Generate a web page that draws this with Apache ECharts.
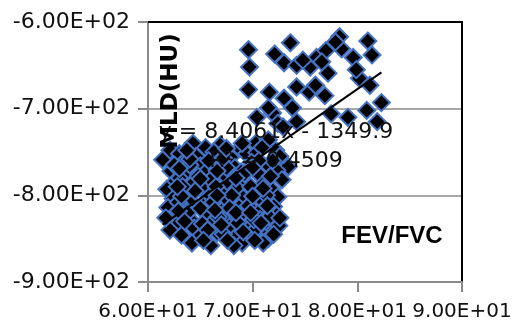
<!DOCTYPE html>
<html>
<head>
<meta charset="utf-8">
<script src="https://cdn.jsdelivr.net/npm/echarts@6/dist/echarts.min.js"></script>
<style>
html,body{margin:0;padding:0;background:#fff;}
#chart{width:515px;height:332px;}
</style>
</head>
<body>
<div id="chart"></div>
<script>
// FEV/FVC (x) and MLD (HU) (y) values
const fevFvc = [
  // upper cluster
  69.6,69.7,69.6,70.4,72.1,73.6,73.0,74.2,75.5,76.1,77.0,78.3,78.5,79.6,81.0,81.4,77.2,80.2,81.2,
  71.6,73.0,74.2,75.4,76.0,76.9,71.9,71.5,72.4,73.8,74.2,77.5,79.1,80.9,82.3,81.9,77.9,74.8,76.6,79.9,72.9,73.4,
  // lower cluster
  64.3,65.5,66.9,68.8,70.3,71.5,72.2,
  62.1,63.0,64.6,66.3,67.9,69.4,70.4,72.6,
  61.4,63.3,65.0,66.8,68.3,69.9,71.6,
  62.2,63.9,65.7,67.4,68.9,70.6,72.3,
  62.6,64.3,66.0,67.7,69.3,71.0,72.8,
  61.8,63.5,65.2,66.9,68.5,70.2,71.8,
  62.4,64.1,65.8,67.5,69.1,70.8,72.4,
  61.9,63.6,65.3,67.0,68.7,70.3,72.0,
  62.3,64.0,65.7,67.4,69.0,70.7,72.3,
  62.7,64.4,66.1,67.8,69.5,71.2,
  62.1,63.2,64.9,66.6,68.3,70.0,71.5,72.1,
  64.2,66.0,69.0,71.0,
  63.0,64.8,66.5,68.0,69.8,71.3,63.8,65.2,67.2,68.6,70.4,62.9,64.5,66.2,67.8,69.6,71.6,72.5,
  65.8,67.5,69.2,70.9,71.9,68.2,72.0,63.3,65.0,66.7,68.4,70.1,61.7,62.5,64.0,69.0,
  64.0,67.2,70.6,65.0,68.4,71.7,63.2,66.6,70.0,62.9,66.4,69.8,71.4,65.7,69.1,72.6,
  62.8,71.0,63.0,66.6,70.0,63.5,67.0,70.8,65.3,67.6,70.2,63.7,67.5
];
const mldHu = [
  -632,-652,-678,-710,-637,-624,-647,-650,-652,-641,-633,-617,-631,-641,-622,-638,-659,-665,-673,
  -681,-688,-675,-681,-673,-685,-705,-699,-717,-699,-715,-706,-710,-702,-693,-715,-623,-644,-646,-655,-721,-767,
  -740,-745,-742,-746,-740,-736,-748,
  -748,-752,-755,-750,-756,-752,-751,-755,
  -759,-763,-766,-761,-768,-762,-767,
  -772,-775,-771,-778,-773,-776,-771,
  -784,-786,-782,-788,-784,-787,-782,
  -793,-797,-792,-796,-792,-797,-793,
  -804,-807,-802,-808,-803,-807,-802,
  -814,-817,-812,-818,-814,-818,-813,
  -825,-827,-822,-828,-824,-828,-823,
  -835,-838,-832,-836,-834,-838,
  -840,-846,-848,-843,-849,-845,-850,-840,
  -855,-858,-855,-855,
  -780,-778,-790,-800,-790,-800,-820,-833,-845,-832,-838,-808,-795,-808,-815,-812,-825,-835,
  -760,-768,-775,-745,-760,-858,-845,-790,-815,-825,-820,-828,-826,-765,-765,-740,
  -758,-757,-760,-781,-780,-778,-801,-800,-801,-818,-817,-820,-812,-840,-842,-826,
  -790,-792,-769,-772,-768,-830,-834,-832,-852,-852,-852,-748,-746
];
// linear trendline (as printed on the chart)
const trendSlope = 8.4061;
const trendIntercept = -1349.9;
const trendLabel = ['y = 8.4061x - 1349.9', 'R² = 0.4509'];

const xTicks = [60, 70, 80, 90];
const xTickLabels = ['6.00E+01', '7.00E+01', '8.00E+01', '9.00E+01'];
const yTicks = [-900, -800, -700, -600];
const yTickLabels = ['-9.00E+02', '-8.00E+02', '-7.00E+02', '-6.00E+02'];
const xTitle = 'FEV/FVC';
const yTitle = 'MLD(HU)';

const points = fevFvc.map((x, i) => [x, mldHu[i]]);
const xMin = Math.min(...fevFvc), xMax = Math.max(...fevFvc);
const trendData = [[xMin, trendSlope * xMin + trendIntercept], [xMax, trendSlope * xMax + trendIntercept]];

const gray = '#8a8a8a';
const chart = echarts.init(document.getElementById('chart'), null, {renderer: 'canvas'});
chart.setOption({
  animation: false,
  backgroundColor: '#fff',
  grid: {left: 148, top: 22, width: 314, height: 260, show: false},
  xAxis: [{
    type: 'value', min: 60, max: 90, interval: 10,
    axisLine: {show: true, lineStyle: {color: gray, width: 2}},
    axisTick: {show: true, length: 10, lineStyle: {color: gray, width: 2}},
    axisLabel: {margin: 20, color: '#111', fontFamily: 'DejaVu Sans', fontSize: 20,
      showMinLabel: true, showMaxLabel: true, hideOverlap: false,
      formatter: v => xTickLabels[xTicks.indexOf(v)] || ''},
    splitLine: {show: false}
  }, {
    type: 'value', min: 60, max: 90, position: 'top',
    axisLine: {show: true, onZero: false, lineStyle: {color: '#000', width: 2}},
    axisTick: {show: false}, axisLabel: {show: false}, splitLine: {show: false}
  }],
  yAxis: [{
    type: 'value', min: -900, max: -600, interval: 100,
    axisLine: {show: true, onZero: false, lineStyle: {color: gray, width: 2}},
    axisTick: {show: true, length: 10, lineStyle: {color: gray, width: 2}},
    axisLabel: {margin: 18, color: '#111', fontFamily: 'DejaVu Sans', fontSize: 22,
      showMinLabel: true, showMaxLabel: true,
      formatter: v => yTickLabels[yTicks.indexOf(v)] || ''},
    splitLine: {show: true, lineStyle: {color: gray, width: 1.5}}
  }, {
    type: 'value', min: -900, max: -600, position: 'right',
    axisLine: {show: true, onZero: false, lineStyle: {color: '#000', width: 2}},
    axisTick: {show: false}, axisLabel: {show: false}, splitLine: {show: false}
  }],
  series: [{
    type: 'scatter',
    data: points,
    symbol: 'diamond',
    symbolSize: 17,
    itemStyle: {color: '#000', borderColor: '#4472C4', borderWidth: 2, opacity: 1},
    z: 2
  }, {
    type: 'line',
    data: trendData,
    symbol: 'none',
    lineStyle: {color: '#000', width: 2},
    z: 3
  }],
  graphic: [{
    type: 'text', z: 10,
    style: {text: trendLabel.join('\n'), x: 276, y: 147, fill: '#111', font: '22px "DejaVu Sans"',
      align: 'center', verticalAlign: 'middle', lineHeight: 29}
  }, {
    type: 'text', x: 171, y: 91, rotation: Math.PI / 2, z: 10,
    style: {text: yTitle, fill: '#000', font: 'bold 23px "DejaVu Sans"', align: 'center', verticalAlign: 'middle'}
  }, {
    type: 'text', x: 392, y: 236, z: 10,
    style: {text: xTitle, fill: '#000', font: 'bold 24px "Liberation Sans"', align: 'center', verticalAlign: 'middle'}
  }]
});
</script>
</body>
</html>
